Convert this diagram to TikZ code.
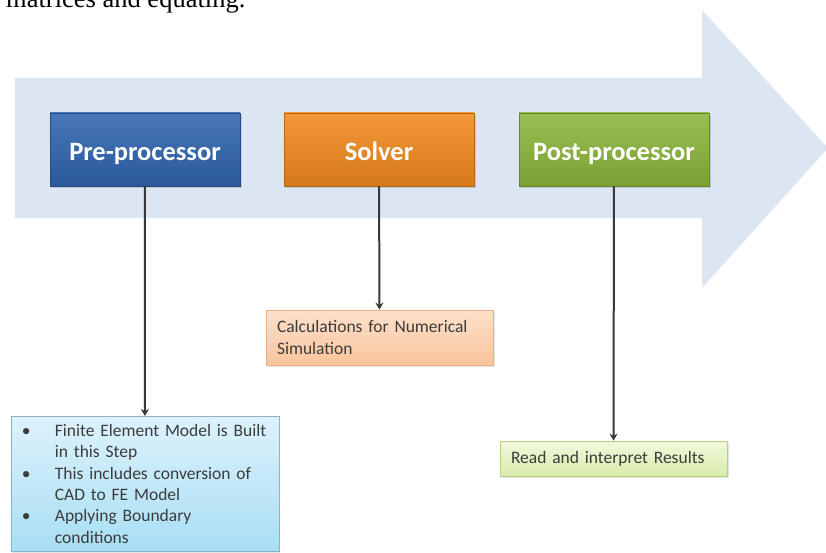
\documentclass[tikz,border=0pt]{standalone}
\usepackage{fontspec}
\setmainfont{Carlito}
\newfontfamily\docfont{Liberation Serif}
\usetikzlibrary{arrows.meta,shadows}

\definecolor{flowbg}{HTML}{DCE6F2}
\definecolor{preblue}{HTML}{2F64B0}
\definecolor{solvorange}{HTML}{F28A1E}
\definecolor{postgreen}{HTML}{8BB63B}
\definecolor{linkgray}{HTML}{383838}
\definecolor{boxtext}{HTML}{3C3C3C}
\definecolor{fetop}{HTML}{DDF2FC}
\definecolor{febot}{HTML}{A8DEF4}
\definecolor{feline}{HTML}{8FB3C6}
\definecolor{calctop}{HTML}{FDE0CB}
\definecolor{calcbot}{HTML}{FBC49C}
\definecolor{calcline}{HTML}{E8AE86}
\definecolor{restop}{HTML}{F1F8DE}
\definecolor{resbot}{HTML}{D8ECA9}
\definecolor{resline}{HTML}{B6CF86}

\tikzset{
  headbox/.style={minimum width=190pt, minimum height=73pt, inner sep=0pt,
    line width=0.6pt, text=white, text height=23pt, text depth=0pt,
    font=\fontsize{26.5}{30}\selectfont\bfseries,
    drop shadow={opacity=0.3, shadow xshift=1.5pt, shadow yshift=-2pt}},
  notebox/.style={line width=0.8pt, align=left, text=boxtext,
    font=\fontsize{17.5}{21.3}\selectfont, inner xsep=11pt,
    drop shadow={opacity=0.2, shadow xshift=1.5pt, shadow yshift=-1.5pt}},
  link/.style={-{Stealth[length=7pt,width=8pt]}, line width=2pt, linkgray}
}

\begin{document}
\begin{tikzpicture}[x=1pt,y=-1pt]
\useasboundingbox (0,0) rectangle (826,553);
\clip (0,0) rectangle (826,553);
% Text line from the page above
\node[font=\docfont\fontsize{26.5}{30}\selectfont, anchor=base west, inner sep=0pt] (pagetext) at (6,8) {matrices and equating.};
% Process arrow
\fill[flowbg] (15,78) -- (702,78) -- (702,10) -- (828,148) -- (702,288) -- (702,218) -- (15,218) -- cycle;
% Three stages
\foreach \name/\x/\col/\lbl in {pre/145/preblue/Pre-processor,solver/379/solvorange/Solver,post/614/postgreen/Post-processor} {
  \node[headbox, draw=\col!75!black, top color=\col!88!white, bottom color=\col!88!black] (\name) at (\x,149.5) {\lbl};
}
% What each stage does
\node[notebox, anchor=north west, inner ysep=8pt, text width=246pt, draw=feline,
  top color=fetop, bottom color=febot] (femodel) at (10.5,416)
  {\makebox[33pt][l]{\textbullet}Finite Element Model is Built\\
   \hspace*{33pt}in this Step\\
   \makebox[33pt][l]{\textbullet}This includes conversion of\\
   \hspace*{33pt}CAD to FE Model\\
   \makebox[33pt][l]{\textbullet}Applying Boundary\\
   \hspace*{33pt}conditions};
\node[notebox, minimum width=227pt, minimum height=55pt, text width=205pt, draw=calcline,
  top color=calctop, bottom color=calcbot] (calc) at (379.5,337.5)
  {Calculations for Numerical\\Simulation};
\node[notebox, minimum width=227pt, minimum height=35pt, text width=205pt, draw=resline,
  top color=restop, bottom color=resbot] (results) at (613.5,458.5)
  {Read and interpret Results};
% Connectors
\draw[link] (pre) -- (femodel);
\draw[link] (solver) -- (calc);
\draw[link] (post) -- (results);
\end{tikzpicture}
\end{document}
